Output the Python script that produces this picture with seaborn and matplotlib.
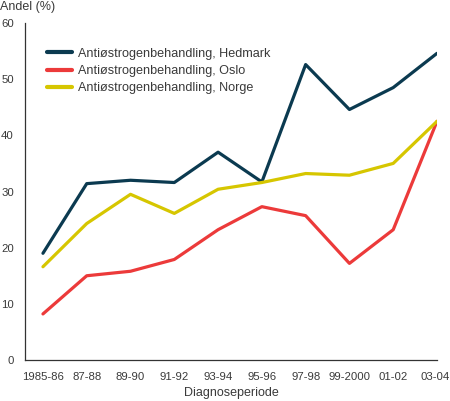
import matplotlib
matplotlib.use("Agg")
import matplotlib.pyplot as plt
import matplotlib.transforms as mtransforms
import seaborn as sns
import pandas as pd

periods = ["1985-86", "87-88", "89-90", "91-92", "93-94", "95-96", "97-98", "99-2000", "01-02", "03-04"]
hedmark = [19.0, 31.4, 32.0, 31.6, 37.0, 31.7, 52.6, 44.6, 48.5, 54.6]
oslo = [8.2, 15.0, 15.8, 17.9, 23.2, 27.3, 25.7, 17.2, 23.2, 42.5]
norge = [16.6, 24.3, 29.5, 26.1, 30.4, 31.6, 33.2, 32.9, 35.0, 42.5]
series_names = ["Antiøstrogenbehandling, Hedmark", "Antiøstrogenbehandling, Oslo", "Antiøstrogenbehandling, Norge"]
colors = ["#0b3a50", "#ec3a3a", "#d6c600"]
yticks = [0, 10, 20, 30, 40, 50, 60]

sns.set_style("white")
plt.rcParams['font.family'] = ['Liberation Sans', 'DejaVu Sans']
txt = "#3a3a3a"

rows = []
for name, vals in zip(series_names, [hedmark, oslo, norge]):
    for i, v in enumerate(vals):
        rows.append({"x": i, "period": periods[i], "value": v, "series": name})
df = pd.DataFrame(rows)

fig = plt.figure(figsize=(4.5, 4.01), dpi=100)
ax = fig.add_axes([25/450, 41/401, (437-25)/450, (360-23)/401])
sns.lineplot(data=df, x="x", y="value", hue="series", palette=colors,
             linewidth=2.3, ax=ax, legend=True)

ax.set_xlim(-0.41, 9)
ax.set_ylim(0, 60)
ax.set_xticks(range(len(periods)))
ax.set_xticklabels(periods)
ax.set_yticks(yticks)
ax.tick_params(axis='both', direction='out', length=5, width=0.9, colors="#333333",
               labelcolor=txt, labelsize=8.2)
ax.tick_params(axis='x', pad=4)
ax.tick_params(axis='y', pad=3)
for s in ["top", "right"]:
    ax.spines[s].set_visible(False)
for s in ["left", "bottom"]:
    ax.spines[s].set_color("#333333")
    ax.spines[s].set_linewidth(0.9)
ax.set_xlabel("Diagnoseperiode", fontsize=9, color=txt, labelpad=3.5)
ax.set_ylabel("")
fig.text(0.0, 394/401, "Andel (%)", fontsize=9, color=txt, ha="left", va="center")

lbl = ax.get_xticklabels()[-1]
lbl.set_transform(lbl.get_transform() + mtransforms.ScaledTranslation(-2/100, 0, fig.dpi_scale_trans))

leg = ax.legend(loc="upper left", bbox_to_anchor=(0.025, 0.96), frameon=False,
                fontsize=9.1, handlelength=2.0, handletextpad=0.5, labelspacing=0.42,
                labelcolor=txt)
for h in leg.get_lines():
    h.set_linewidth(3)

fig.savefig("out.png", dpi=100)
